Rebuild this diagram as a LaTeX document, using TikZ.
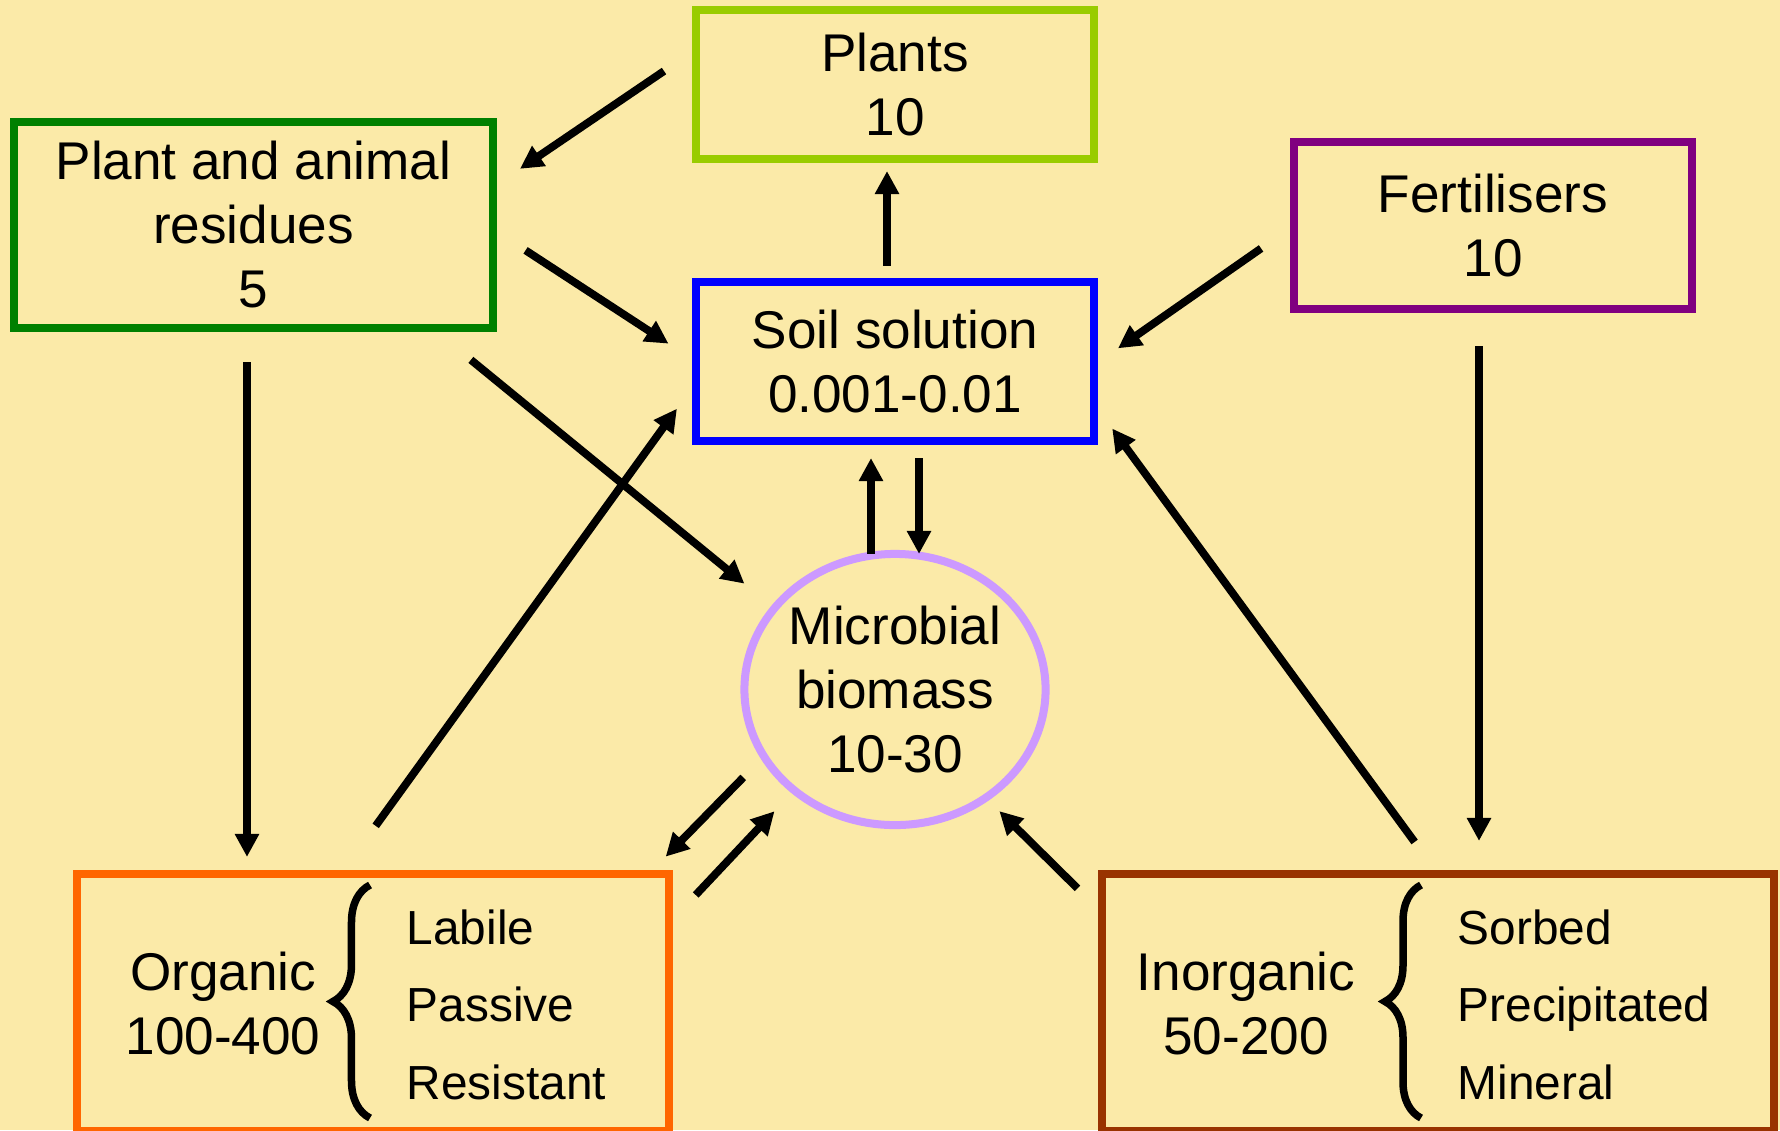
\documentclass[tikz,border=0pt]{standalone}
\usepackage{fontspec}
\setmainfont{Liberation Sans}
\usetikzlibrary{shapes.geometric, arrows.meta, decorations.pathreplacing}
\definecolor{paper}{RGB}{251,234,168}
\definecolor{plantcol}{RGB}{153,204,0}
\definecolor{residuecol}{RGB}{0,128,0}
\definecolor{solutioncol}{RGB}{0,0,255}
\definecolor{fertcol}{RGB}{128,0,128}
\definecolor{microcol}{RGB}{204,153,255}
\definecolor{organiccol}{RGB}{255,102,0}
\definecolor{inorgcol}{RGB}{153,51,0}
\tikzstyle{arrow} = [line width=0.078cm, -{Triangle[length=0.23cm,width=0.23cm]}]
\tikzstyle{pool} = [rectangle, draw, line width=0.08cm, outer sep=0pt, inner sep=0pt, align=center]
\tikzstyle{sub} = [anchor=west, inner sep=0pt, text depth=0pt, font=\fontsize{13.6}{16.4}\selectfont]
\tikzstyle{curly} = [decorate, line width=0.075cm]

\begin{document}
\begin{tikzpicture}[x=0.01cm, y=-0.01cm, font=\fontsize{15.1}{18.2}\selectfont]
        \path[use as bounding box, fill=paper] (0,0) rectangle (1780,1130);
        \clip (0,0) rectangle (1780,1130);

        % pools
        \node[pool, draw=plantcol, minimum width=3.98cm, minimum height=1.49cm] (plants) at (895,84.5) {Plants\\10};
        \node[pool, draw=residuecol, minimum width=4.79cm, minimum height=2.06cm] (residues) at (253.5,225) {Plant and animal\\residues\\5};
        \node[pool, draw=solutioncol, minimum width=3.98cm, minimum height=1.59cm] (soil) at (895,361.5) {Soil solution\\0.001-0.01};
        \node[pool, draw=fertcol, minimum width=3.98cm, minimum height=1.67cm] (fert) at (1493,225.5) {Fertilisers\\10};
        \node[ellipse, draw=microcol, line width=0.08cm, outer sep=0pt, inner sep=0pt, align=center,
              minimum width=3.01cm, minimum height=2.71cm] (micro) at (895,689.5) {Microbial\\biomass\\10-30};
        \node[pool, draw=organiccol, minimum width=5.92cm, minimum height=2.57cm] (organic) at (373,1002.5) {};
        \node[pool, draw=inorgcol, minimum width=6.72cm, minimum height=2.57cm] (inorganic) at (1438,1002.5) {};

        % contents of the two lower pools
        \node[align=center] (orgname) at (223,1003) {Organic\\100-400};
        \draw[curly, decoration={brace, amplitude=0.37cm}] (370,1118) -- (370,885);
        \node[sub] (labile) at (406,927) {Labile};
        \node[sub] (passive) at (406,1004) {Passive};
        \node[sub] (resistant) at (406,1082) {Resistant};

        \node[align=center] (inorgname) at (1246,1003) {Inorganic\\50-200};
        \draw[curly, decoration={brace, amplitude=0.36cm}] (1421,1118) -- (1421,885);
        \node[sub] (sorbed) at (1457,927) {Sorbed};
        \node[sub] (precip) at (1457,1004) {Precipitated};
        \node[sub] (mineral) at (1457,1082) {Mineral};

        % flows
        \draw[arrow, shorten <=0.385cm, shorten >=0.324cm] (plants.170.6) -- (residues.9.0);
        \draw[arrow, shorten <=0.387cm, shorten >=0.327cm] (residues.359.7) -- (soil.180.8);
        \draw[arrow, shorten <=0.16cm, shorten >=0.12cm] ([xshift=-0.08cm]soil.north) -- ([xshift=-0.08cm]plants.south);
        \draw[arrow, shorten <=0.40cm, shorten >=0.291cm] (fert.180) -- (soil.359.7);
        \draw[arrow, shorten <=0.34cm, shorten >=0.17cm] ([xshift=-0.065cm]residues.south) -- ([xshift=-0.065cm]residues.south |- organic.north);
        \draw[arrow, shorten <=0.502cm, shorten >=0.388cm] (residues.330.0) -- (micro.146.7);
        \draw[arrow, shorten <=0.593cm, shorten >=0.324cm] (organic.104.0) -- (soil.186.7);
        \draw[arrow, shorten <=0.0cm, shorten >=0.17cm] ([xshift=-0.24cm]micro.north) -- ([xshift=-0.24cm]soil.south);
        \draw[arrow, shorten <=0.17cm, shorten >=0.0cm] ([xshift=0.24cm]soil.south) -- ([xshift=0.24cm]micro.north);
        \draw[arrow, shorten <=0.296cm, shorten >=0.242cm] (micro.207.4) -- (organic.25.1);
        \draw[arrow, shorten <=0.387cm, shorten >=0.288cm] (organic.15.6) -- (micro.225.1);
        \draw[arrow, shorten <=0.342cm, shorten >=0.191cm] (inorganic.165.6) -- (micro.310.2);
        \draw[arrow, shorten <=0.396cm, shorten >=0.306cm] (inorganic.90.3) -- (soil.348.4);
        \draw[arrow, shorten <=0.37cm, shorten >=0.33cm] ([xshift=-0.14cm]fert.south) -- ([xshift=-0.14cm]fert.south |- inorganic.north);
\end{tikzpicture}
\end{document}
